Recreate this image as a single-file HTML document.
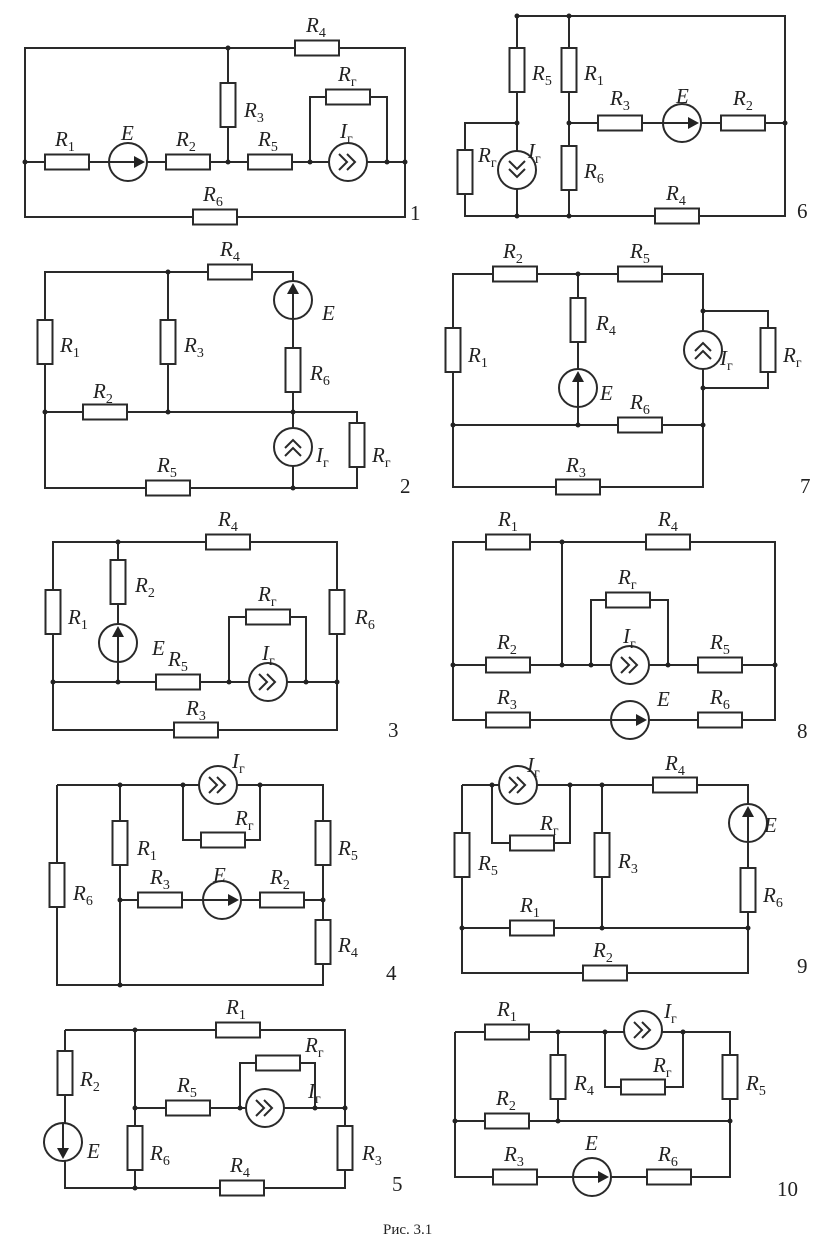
<!DOCTYPE html>
<html><head><meta charset="utf-8">
<style>
html,body{margin:0;padding:0;background:#fff;}
svg{display:block;}
text{font-family:"Liberation Serif",serif;fill:#222;}
</style></head>
<body>
<svg id="s" width="825" height="1244" viewBox="0 0 825 1244" xmlns="http://www.w3.org/2000/svg">
<g id="w" stroke="#2a2a2a" stroke-width="2" fill="none"></g>
<g id="c"></g>
</svg>
<script>
const NS="http://www.w3.org/2000/svg";
const W=document.getElementById('w'), C=document.getElementById('c');
function mk(tag,at,par){const e=document.createElementNS(NS,tag);for(const k in at)e.setAttribute(k,at[k]);par.appendChild(e);return e;}
function wire(pts){const e=mk('polyline',{points:pts.map(p=>p.join(',')).join(' ')},W);

}
function lbl(x,y,main,sub){const t=mk('text',{x:x,y:y,'font-size':21,'font-style':'italic'},C);


t.appendChild(document.createTextNode(main));
if(sub){const s=mk('tspan',{dy:5,'font-size':14,'font-style':'normal'},t);s.textContent=sub;}}
function res(x,y,v,sub,lx,ly){const w=v?15:44,h=v?44:15;
const r=mk('rect',{x:x-w/2,y:y-h/2,width:w,height:h,fill:'#fff',stroke:'#2a2a2a','stroke-width':2},C);


lbl(lx,ly,'R',sub);}
function emf(x,y,dir,lx,ly){const g=mk('g',{},C);


mk('circle',{cx:x,cy:y,r:19,fill:'#fff',stroke:'#2a2a2a','stroke-width':2},g);
const d={r:[1,0],l:[-1,0],u:[0,-1],d:[0,1]}[dir];
const ax=d[0],ay=d[1];
mk('line',{x1:x-ax*19,y1:y-ay*19,x2:x+ax*10,y2:y+ay*10,stroke:'#2a2a2a','stroke-width':2},g);
const tx=x+ax*17,ty=y+ay*17,px=-ay,py=ax;
mk('polygon',{points:`${tx},${ty} ${x+ax*6+px*6},${y+ay*6+py*6} ${x+ax*6-px*6},${y+ay*6-py*6}`,fill:'#222'},g);
lbl(lx,ly,'E');}
function cur(x,y,dir,lx,ly){const g=mk('g',{},C);


mk('circle',{cx:x,cy:y,r:19,fill:'#fff',stroke:'#2a2a2a','stroke-width':2},g);
const d={r:[1,0],l:[-1,0],u:[0,-1],d:[0,1]}[dir];const ax=d[0],ay=d[1],px=-ay,py=ax;
[-4,4].forEach(o=>{const cx=x+ax*o,cy=y+ay*o;
mk('polyline',{points:`${cx-ax*5+px*8},${cy-ay*5+py*8} ${cx+ax*3},${cy+ay*3} ${cx-ax*5-px*8},${cy-ay*5-py*8}`,fill:'none',stroke:'#2a2a2a','stroke-width':2},g);});
lbl(lx,ly,'I','г');}
function dot(x,y){const e=mk('circle',{cx:x,cy:y,r:2.5,fill:'#222'},C);

}
function num(x,y,t){const e=mk('text',{x:x,y:y,'font-size':21},C);

e.textContent=t;}

// Circuit 1
wire([[25,162],[25,48],[405,48],[405,217],[25,217],[25,162],[405,162]]);
wire([[228,48],[228,162]]);wire([[310,162],[310,97],[387,97],[387,162]]);
res(317,48,0,'4',306,32);res(228,105,1,'3',244,117);res(348,97,0,'г',338,81);
res(67,162,0,'1',55,146);emf(128,162,'r',121,140);res(188,162,0,'2',176,146);res(270,162,0,'5',258,146);
cur(348,162,'r',340,138);res(215,217,0,'6',203,201);
[25,228,310,387,405].forEach(x=>dot(x,162));dot(228,48);num(410,220,'1');

// Circuit 6
wire([[517,216],[517,16],[785,16],[785,216],[465,216],[465,123],[517,123]]);
wire([[569,16],[569,216]]);wire([[569,123],[785,123]]);
res(517,70,1,'5',532,80);res(569,70,1,'1',584,80);res(569,168,1,'6',584,178);
res(465,172,1,'г',478,162);cur(517,170,'d',528,158);
res(620,123,0,'3',610,105);emf(682,123,'r',676,103);res(743,123,0,'2',733,105);res(677,216,0,'4',666,200);
dot(517,16);dot(569,16);dot(517,123);dot(569,123);dot(785,123);dot(517,216);dot(569,216);num(797,218,'6');

// Circuit 2
wire([[45,412],[45,272],[293,272],[293,412]]);wire([[168,272],[168,412]]);
wire([[45,412],[357,412],[357,488],[45,488],[45,412]]);wire([[293,412],[293,488]]);
res(45,342,1,'1',60,352);res(168,342,1,'3',184,352);res(230,272,0,'4',220,256);
emf(293,300,'u',322,320);res(293,370,1,'6',310,380);res(105,412,0,'2',93,398);
cur(293,447,'u',316,462);res(357,445,1,'г',372,462);res(168,488,0,'5',157,472);
dot(168,272);dot(168,412);dot(293,412);dot(293,488);dot(45,412);num(400,493,'2');

// Circuit 7
wire([[453,425],[453,274],[703,274],[703,425],[453,425],[453,487],[703,487],[703,425]]);
wire([[578,274],[578,425]]);wire([[703,311],[768,311],[768,388],[703,388]]);
res(453,350,1,'1',468,362);res(515,274,0,'2',503,258);res(640,274,0,'5',630,258);
res(578,320,1,'4',596,330);emf(578,388,'u',600,400);res(640,425,0,'6',630,409);
cur(703,350,'u',720,365);res(768,350,1,'г',783,362);res(578,487,0,'3',566,472);
dot(578,274);dot(453,425);dot(578,425);dot(703,425);dot(703,311);dot(703,388);num(800,493,'7');

// Circuit 3
wire([[53,682],[53,542],[337,542],[337,730],[53,730],[53,682],[337,682]]);
wire([[118,542],[118,682]]);wire([[229,682],[229,617],[306,617],[306,682]]);
res(53,612,1,'1',68,624);res(118,582,1,'2',135,592);emf(118,643,'u',152,655);
res(228,542,0,'4',218,526);res(337,612,1,'6',355,624);res(268,617,0,'г',258,601);
res(178,682,0,'5',168,666);cur(268,682,'r',262,660);res(196,730,0,'3',186,715);
dot(118,542);dot(118,682);dot(53,682);dot(229,682);dot(306,682);dot(337,682);num(388,737,'3');

// Circuit 8
wire([[453,665],[453,542],[775,542],[775,720],[453,720],[453,665],[775,665]]);
wire([[562,542],[562,665]]);wire([[591,665],[591,600],[668,600],[668,665]]);
res(508,542,0,'1',498,526);res(668,542,0,'4',658,526);res(628,600,0,'г',618,584);
res(508,665,0,'2',497,649);cur(630,665,'r',623,643);res(720,665,0,'5',710,649);
res(508,720,0,'3',497,704);emf(630,720,'r',657,706);res(720,720,0,'6',710,704);
dot(562,542);dot(562,665);dot(453,665);dot(775,665);dot(591,665);dot(668,665);num(797,738,'8');

// Circuit 4
wire([[57,785],[323,785],[323,985],[57,985],[57,785]]);wire([[120,785],[120,985]]);
wire([[120,900],[323,900]]);wire([[183,785],[183,840],[260,840],[260,785]]);
cur(218,785,'r',232,768);res(223,840,0,'г',235,825);res(57,885,1,'6',73,900);
res(120,843,1,'1',137,855);res(160,900,0,'3',150,884);emf(222,900,'r',213,882);res(282,900,0,'2',270,884);
res(323,843,1,'5',338,855);res(323,942,1,'4',338,952);
dot(120,785);dot(120,900);dot(323,900);dot(120,985);dot(183,785);dot(260,785);num(386,980,'4');

// Circuit 9
wire([[462,785],[748,785],[748,928],[462,928],[462,785]]);wire([[462,928],[462,973],[748,973],[748,928]]);
wire([[602,785],[602,928]]);wire([[492,785],[492,843],[570,843],[570,785]]);
cur(518,785,'r',527,772);res(532,843,0,'г',540,830);res(675,785,0,'4',665,770);
res(462,855,1,'5',478,870);res(602,855,1,'3',618,868);emf(748,823,'u',764,832);res(748,890,1,'6',763,902);
res(532,928,0,'1',520,912);res(605,973,0,'2',593,957);
dot(602,785);dot(602,928);dot(462,928);dot(748,928);dot(492,785);dot(570,785);num(797,973,'9');

// Circuit 5
wire([[65,1030],[345,1030],[345,1188],[65,1188],[65,1030]]);wire([[135,1030],[135,1188]]);
wire([[135,1108],[345,1108]]);wire([[240,1108],[240,1063],[315,1063],[315,1108]]);
res(238,1030,0,'1',226,1014);res(65,1073,1,'2',80,1086);emf(63,1142,'d',87,1158);
res(135,1148,1,'6',150,1160);res(188,1108,0,'5',177,1092);res(278,1063,0,'г',305,1052);
cur(265,1108,'r',308,1098);res(345,1148,1,'3',362,1160);res(242,1188,0,'4',230,1172);
dot(135,1030);dot(135,1108);dot(345,1108);dot(135,1188);dot(240,1108);dot(315,1108);num(392,1191,'5');

// Circuit 10
wire([[455,1032],[730,1032],[730,1177],[455,1177],[455,1032]]);wire([[455,1121],[730,1121]]);
wire([[558,1032],[558,1121]]);wire([[605,1032],[605,1087],[683,1087],[683,1032]]);
res(507,1032,0,'1',497,1016);cur(643,1030,'r',664,1018);res(558,1077,1,'4',574,1090);
res(643,1087,0,'г',653,1072);res(730,1077,1,'5',746,1090);res(507,1121,0,'2',496,1105);
res(515,1177,0,'3',504,1161);emf(592,1177,'r',585,1150);res(669,1177,0,'6',658,1161);
dot(558,1032);dot(558,1121);dot(455,1121);dot(730,1121);dot(605,1032);dot(683,1032);num(777,1196,'10');

const cap=mk('text',{x:383,y:1234,'font-size':15},C);


cap.textContent='Рис. 3.1';
</script>
</body></html>
